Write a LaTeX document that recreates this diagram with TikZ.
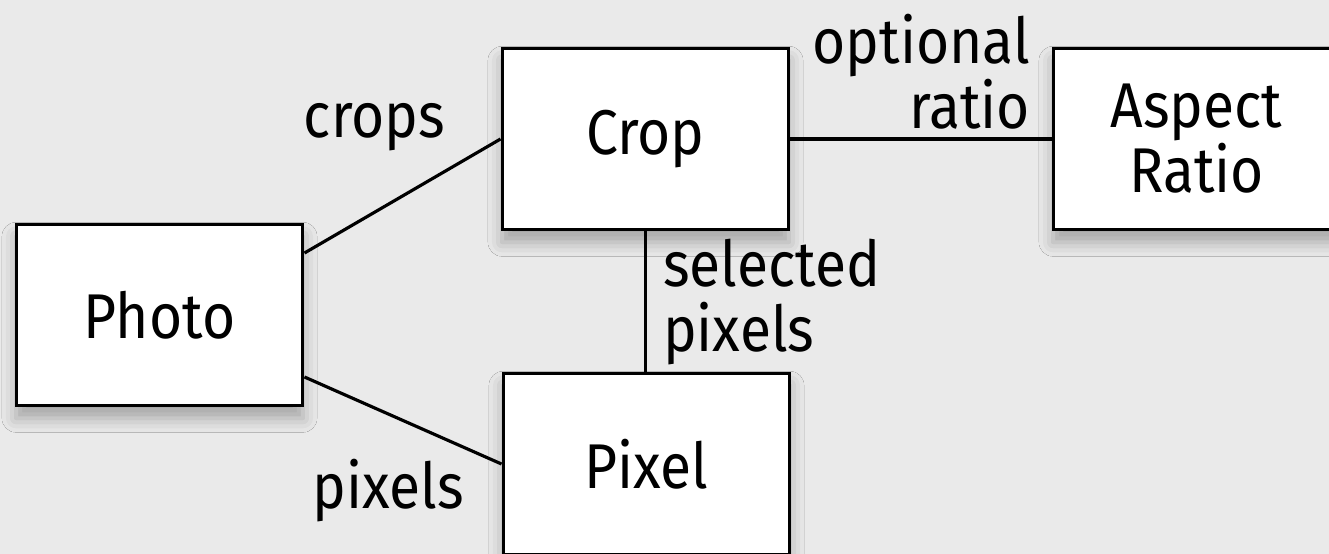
\documentclass[tikz,border=0pt]{standalone}
\usepackage{fontspec}
\setmainfont{Fira Sans}[FakeStretch=0.9]
\usetikzlibrary{positioning,shadows.blur}
\definecolor{canvas}{HTML}{EAEAEA}
\tikzset{
    entity/.style={draw, fill=white, line width=1.7pt, inner sep=0pt,
        minimum width=5.74cm, minimum height=3.64cm, align=center,
        blur shadow={shadow xshift=0pt, shadow yshift=-7pt,
            shadow blur radius=8pt, shadow opacity=30}},
    link/.style={line width=1.8pt},
    role/.style={inner sep=0pt}
}
\begin{document}
\fontsize{36}{37}\selectfont
\begin{tikzpicture}[x=0.02cm, y=-0.02cm]
        \fill[canvas] (0,0) rectangle (1329,554);
        \useasboundingbox (0,0) rectangle (1329,554);
        % the four entities
        \node[entity] (photo) at (159.5,315) {Photo};
        \node[entity] (crop) at (645.5,139) {Crop};
        \node[entity] (aspect) at (1196.5,139) {Aspect\\Ratio};
        \node[entity] (pixel) at (646.5,464) {Pixel};
        % relations
        \draw[link] ([yshift=1.24cm]photo.east) -- (crop.west)
            node[role, pos=1, anchor=base east, xshift=-1.08cm, yshift=0.04cm] {crops};
        \draw[link] ([yshift=-1.24cm]photo.east) -- (pixel.west)
            node[role, pos=1, anchor=base east, xshift=-0.72cm, yshift=-0.9cm] {pixels};
        \draw[link] (crop.east) -- (aspect.west)
            node[role, pos=1, anchor=south east, align=right, xshift=-0.4cm, yshift=0.16cm] {optional\\ratio};
        \draw[link] (crop.south) -- (crop.south |- pixel.north)
            node[role, pos=0, anchor=north west, align=left, xshift=0.32cm, yshift=-0.12cm] {selected\\pixels};
\end{tikzpicture}
\end{document}
